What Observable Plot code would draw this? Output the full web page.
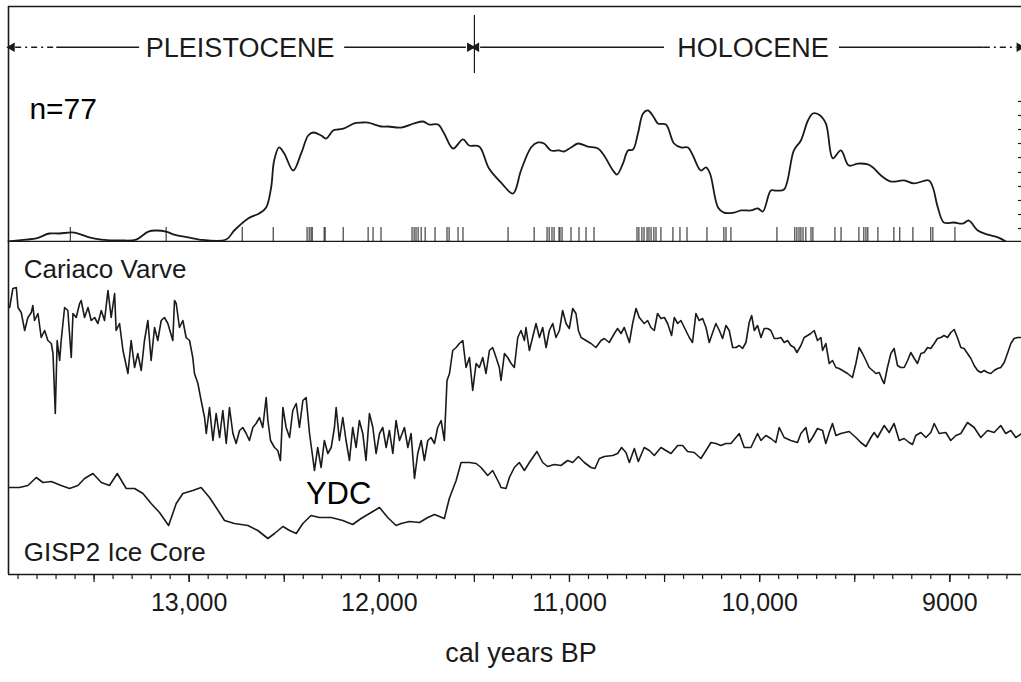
<!DOCTYPE html>
<html>
<head>
<meta charset="utf-8">
<script src="https://cdn.jsdelivr.net/npm/d3@7"></script>
<script src="https://cdn.jsdelivr.net/npm/@observablehq/plot@0.6"></script>
<style>
  html, body { margin: 0; padding: 0; background: #fff; overflow: hidden; }
  #chart { width: 1021px; height: 682px; overflow: hidden; position: relative; }
  #chart svg { display: block; }
</style>
</head>
<body>
<div id="chart"></div>
<script>
// ---------- DATA ----------
const xDomain = [13950, 8623]; // cal years BP, left to right

// Summed probability of 77 radiocarbon dates (relative units), [year, p]
const summedProb = [
[13951,0],[13857,1.5],[13804,2.3],[13736,6.1],[13683,6.1],[13620,6.9],[13583,6.1],[13525,3.1],[13462,1.5],[13357,0.8],[13278,1.5],[13215,7.6],[13173,8.4],[13121,7.6],[13079,5.3],[13005,3.1],[12947,1.5],[12805,1.5],[12763,8.4],[12690,17.6],[12632,21.4],[12595,26],[12569,41.2],[12553,61.8],[12527,71.8],[12500,67.2],[12453,54.2],[12411,67.2],[12374,80.9],[12348,83.2],[12306,80.9],[12280,78.6],[12243,84.7],[12217,85.5],[12185,86.3],[12132,90.1],[12096,90.8],[12059,90.8],[11990,87.8],[11954,87.8],[11885,87],[11817,90.1],[11770,91.6],[11738,89.3],[11691,89.3],[11659,82.4],[11612,71],[11560,77.9],[11528,73.3],[11475,72.5],[11423,55.7],[11360,45],[11297,36.6],[11255,54.2],[11202,71.8],[11166,75.6],[11134,74.8],[11097,69.5],[11055,69.5],[11029,68.7],[10992,71.8],[10955,74.8],[10903,72.5],[10850,71],[10818,65.6],[10771,54.2],[10750,51.1],[10719,59.5],[10692,69.5],[10666,70.2],[10640,82.4],[10613,97.7],[10587,100],[10556,94.7],[10535,90.1],[10493,89.3],[10450,74.8],[10414,71.8],[10377,71.8],[10351,65.6],[10309,54.2],[10282,56.5],[10261,51.9],[10219,26],[10188,22.1],[10135,22.1],[10098,23.7],[10046,23.7],[10009,25.2],[9983,22.9],[9941,38.9],[9914,38.9],[9872,39.7],[9820,69.5],[9783,77.1],[9746,92.4],[9720,97.7],[9689,96.9],[9652,90.1],[9615,63.4],[9573,69.5],[9531,58],[9483,59.5],[9431,58.8],[9404,56.5],[9362,50.4],[9310,45.8],[9241,46.6],[9189,44.3],[9110,46.6],[9089,41.2],[9063,26],[9031,14.5],[8979,14.5],[8932,13.7],[8900,16],[8853,8.4],[8800,5.3],[8747,3.1],[8705,0]
];

// Calibrated dates (n=77), cal years BP
const dates = [13625,13121,12721,12558,12380,12369,12359,12353,12290,12285,12190,12059,12033,11991,11828,11817,11807,11796,11780,11759,11707,11644,11633,11586,11560,11323,11186,11118,11107,11092,11081,11055,11050,11039,10992,10950,10913,10871,10645,10635,10619,10608,10592,10582,10571,10556,10545,10519,10456,10419,10382,10277,10188,10177,10151,9909,9815,9804,9793,9783,9772,9757,9730,9720,9604,9572,9478,9452,9441,9431,9378,9294,9263,9194,9100,9089,8973];

// Right-hand axis ticks of the upper panel (cut off at the picture edge), relative units
const rightTicks = [9.9, 20.6, 31.3, 42, 52.7, 64.1, 74.8, 85.5, 96.2, 106.9];

// Cariaco Basin varve gray-scale (relative units, up = warmer), [year, v]
const cariaco = [
[13944,173],[13927,192],[13909,193],[13900,173],[13883,168],[13865,150],[13848,163],[13830,168],[13822,175],[13813,160],[13795,167],[13778,143],[13760,150],[13743,140],[13725,137],[13716,127],[13704,67],[13694,140],[13681,120],[13673,140],[13655,173],[13638,170],[13620,123],[13611,167],[13594,163],[13576,177],[13568,180],[13550,163],[13532,173],[13515,160],[13497,163],[13480,157],[13462,170],[13445,160],[13427,190],[13410,163],[13392,187],[13384,150],[13366,157],[13348,130],[13340,123],[13322,107],[13305,140],[13287,113],[13270,127],[13252,110],[13235,140],[13217,160],[13200,120],[13182,153],[13165,140],[13147,160],[13130,163],[13112,157],[13086,140],[13077,180],[13068,177],[13051,153],[13033,160],[13016,143],[12998,140],[12981,123],[12972,107],[12954,97],[12937,80],[12919,63],[12910,47],[12893,73],[12875,40],[12858,67],[12840,43],[12823,70],[12805,37],[12788,73],[12770,47],[12753,37],[12735,50],[12718,53],[12700,47],[12683,40],[12665,53],[12648,57],[12630,63],[12613,53],[12595,83],[12586,60],[12572,40],[12551,33],[12534,30],[12520,20],[12507,73],[12490,53],[12472,43],[12455,70],[12437,77],[12420,53],[12402,80],[12385,83],[12367,47],[12350,23],[12341,10],[12324,33],[12306,13],[12289,40],[12271,27],[12253,33],[12236,53],[12227,73],[12210,40],[12192,63],[12175,40],[12157,20],[12140,53],[12122,33],[12105,60],[12087,47],[12070,20],[12052,67],[12034,53],[12017,27],[11999,47],[11982,53],[11964,33],[11947,50],[11929,27],[11912,60],[11894,40],[11868,53],[11850,33],[11833,47],[11815,2],[11798,27],[11780,40],[11763,20],[11745,40],[11728,43],[11710,37],[11693,53],[11675,60],[11658,40],[11644,100],[11631,107],[11614,130],[11596,133],[11579,137],[11561,140],[11544,113],[11526,123],[11509,90],[11491,117],[11474,113],[11456,123],[11439,107],[11421,130],[11404,133],[11386,123],[11369,113],
[11360,100],[11342,127],[11325,123],[11307,117],[11290,113],[11272,143],[11255,150],[11237,140],[11229,153],[11211,130],[11194,143],[11176,157],[11158,143],[11141,153],[11123,133],[11106,150],[11088,157],[11071,143],[11053,150],[11036,170],[11018,157],[11001,152],[10983,172],[10966,167],[10953,150],[10939,143],[10913,140],[10887,137],[10861,133],[10834,140],[10817,142],[10791,138],[10764,147],[10747,152],[10729,147],[10712,153],[10685,138],[10668,157],[10650,172],[10633,163],[10607,157],[10589,160],[10572,153],[10554,150],[10537,167],[10519,162],[10501,163],[10484,157],[10463,145],[10449,163],[10431,157],[10414,160],[10396,153],[10370,143],[10353,138],[10335,167],[10318,160],[10300,162],[10282,153],[10265,138],[10247,148],[10230,157],[10212,150],[10195,142],[10177,155],[10160,150],[10142,133],[10125,133],[10107,135],[10090,132],[10072,138],[10055,158],[10042,165],[10028,150],[10011,155],[9993,143],[9976,152],[9958,152],[9941,150],[9923,142],[9906,142],[9888,143],[9871,138],[9853,140],[9836,135],[9818,133],[9804,128],[9783,135],[9766,143],[9748,145],[9731,147],[9713,150],[9696,140],[9678,143],[9669,130],[9652,137],[9634,117],[9617,120],[9599,113],[9582,112],[9564,110],[9538,107],[9512,103],[9494,117],[9477,133],[9459,127],[9441,120],[9424,113],[9406,110],[9389,107],[9371,108],[9354,100],[9345,97],[9328,113],[9310,127],[9293,132],[9275,115],[9258,113],[9240,113],[9222,120],[9205,128],[9187,122],[9170,117],[9152,127],[9135,128],[9117,133],[9100,132],[9082,137],[9065,142],[9047,143],[9030,145],[9012,143],[8995,148],[8977,151],[8960,143],[8942,133],[8925,132],[8907,127],[8889,122],[8872,115],[8854,110],[8837,108],[8819,110],[8802,108],[8784,107],[8767,110],[8749,112],[8732,113],[8714,118],[8697,127],[8679,137],[8662,142],[8644,143],[8621,143]
];

// GISP2 ice core (relative units, same vertical unit as above), [year, v]
const gisp2 = [
[13944,-7],[13892,-7],[13848,-5],[13804,3],[13769,-2],[13725,-1],[13673,-5],[13629,-8],[13585,-5],[13550,2],[13506,7],[13462,-2],[13419,-5],[13378,7],[13331,-8],[13287,-8],[13243,-13],[13200,-23],[13156,-32],[13108,-45],[13068,-23],[13033,-13],[12981,-10],[12937,-7],[12893,-17],[12858,-27],[12814,-40],[12762,-43],[12691,-45],[12639,-50],[12586,-58],[12551,-53],[12507,-46],[12472,-50],[12437,-53],[12402,-43],[12359,-35],[12315,-37],[12253,-37],[12192,-40],[12140,-44],[12096,-38],[12043,-32],[11999,-27],[11956,-37],[11912,-45],[11885,-43],[11842,-41],[11789,-42],[11745,-37],[11710,-34],[11658,-38],[11632,-18],[11596,0],[11570,18],[11526,18],[11491,17],[11465,13],[11430,5],[11404,10],[11369,-3],
[11360,-7],[11334,-8],[11316,3],[11290,13],[11264,18],[11237,10],[11211,18],[11171,29],[11141,18],[11115,14],[11080,16],[11045,15],[11010,20],[10983,18],[10953,24],[10922,18],[10887,13],[10866,12],[10843,22],[10817,24],[10773,25],[10747,27],[10726,33],[10703,28],[10685,18],[10659,32],[10638,19],[10607,33],[10580,30],[10554,25],[10519,33],[10493,30],[10466,27],[10431,35],[10405,35],[10379,29],[10344,28],[10309,22],[10282,30],[10256,38],[10230,37],[10204,35],[10177,37],[10151,37],[10107,47],[10081,33],[10046,33],[10011,47],[9993,40],[9967,45],[9941,42],[9915,38],[9897,53],[9871,43],[9836,40],[9801,38],[9783,47],[9757,53],[9740,38],[9722,43],[9696,52],[9669,50],[9652,37],[9634,48],[9617,57],[9599,45],[9573,47],[9529,49],[9494,43],[9468,38],[9441,34],[9415,43],[9398,48],[9380,43],[9345,55],[9319,48],[9293,57],[9266,40],[9240,42],[9214,38],[9196,36],[9179,45],[9152,48],[9126,43],[9100,48],[9082,57],[9056,47],[9021,48],[8995,40],[8968,45],[8942,47],[8907,58],[8872,53],[8837,43],[8802,50],[8767,48],[8732,55],[8706,47],[8679,50],[8653,43],[8621,47]
];

// Period annotation
const boundaryYear = 11500;
const periodNames = ["PLEISTOCENE", "HOLOCENE"];
const periodLabelYears = [12732, 10035];
const solidSegments = [[13699, 13263], [12185, 11545], [11470, 10503], [9583, 8821]];
const dashedSegments = [[13915, 13699], [8821, 8650]];
const arrowHeads = [[13932, -90], [11524, 90], [11490, -90], [8634, 90]]; // [year, rotation]

// Axis ticks
const minorTicks = d3.range(8700, 14000, 100);
const halfTicks = d3.range(9000, 14000, 500);
const labelTicks = [13000, 12000, 11000, 10000, 9000];

// Panel labels
const nLabel = "n=77";
const seriesLabels = ["Cariaco Varve", "GISP2 Ice Core"];
const eventLabel = "YDC";
const xLabel = "cal years BP";

// ---------- CHART ----------
const FONT = "'Liberation Sans', Arial, Helvetica, sans-serif";
const INK = "#1a1a1a";
const annY = 148.3;   // level of the period arrows, in panel units
const fmt = d => d >= 10000 ? d3.format(",")(d) : String(d);

const topPlot = Plot.plot({
  width: 1021, height: 242,
  marginLeft: 8, marginRight: 0, marginTop: 6, marginBottom: 1,
  x: {domain: xDomain, axis: null, label: null},
  y: {domain: [0, 179.4], axis: null, label: null},
  style: {fontFamily: FONT, background: "#fff", color: INK},
  marks: [
    Plot.ruleY([179.4], {stroke: INK, strokeWidth: 1.6}),
    Plot.ruleY([0], {stroke: INK, strokeWidth: 1.6}),
    Plot.ruleX([xDomain[0]], {stroke: INK, strokeWidth: 1.6}),
    Plot.ruleY(rightTicks, {insetLeft: 1010, stroke: INK, strokeWidth: 1.2}),
    Plot.ruleX(dates, {x: d => d, insetTop: 221, stroke: INK, strokeWidth: 1}),
    Plot.line(summedProb, {x: d => d[0], y: d => d[1], curve: "catmull-rom", stroke: INK, strokeWidth: 1.8}),
    Plot.ruleX([boundaryYear], {y1: 128.2, y2: 172.5, stroke: INK, strokeWidth: 1.2}),
    Plot.link(solidSegments, {x1: d => d[0], x2: d => d[1], y1: annY, y2: annY, stroke: INK, strokeWidth: 1.3}),
    Plot.link(dashedSegments, {x1: d => d[0], x2: d => d[1], y1: annY, y2: annY, stroke: INK, strokeWidth: 1.3, strokeDasharray: "6,4,2,4"}),
    Plot.dot(arrowHeads, {x: d => d[0], y: annY, rotate: d => d[1], symbol: "triangle", r: 3.6, fill: INK, stroke: "none"}),
    Plot.text(periodNames, {x: (d, i) => periodLabelYears[i], y: annY, text: d => d, fontSize: 27, fill: INK, dy: 1}),
    Plot.text([nLabel], {x: 13840, y: 101.2, text: d => d, textAnchor: "start", fontSize: 30, fill: "#000"})
  ]
});

const bottomPlot = Plot.plot({
  width: 1021, height: 440,
  marginLeft: 8, marginRight: 0, marginTop: 0, marginBottom: 108,
  x: {domain: xDomain, label: null},
  y: {domain: [-94, 238], axis: null, label: null},
  style: {fontFamily: FONT, background: "#fff", color: INK},
  marks: [
    Plot.ruleX([xDomain[0]], {stroke: INK, strokeWidth: 1.6}),
    Plot.ruleY([-94], {stroke: INK, strokeWidth: 1.6}),
    Plot.line(cariaco, {x: d => d[0], y: d => d[1], stroke: INK, strokeWidth: 1.6}),
    Plot.line(gisp2, {x: d => d[0], y: d => d[1], stroke: INK, strokeWidth: 1.6}),
    Plot.axisX(minorTicks, {tickSize: 5, tickFormat: () => "", stroke: INK, strokeWidth: 1.2}),
    Plot.axisX(halfTicks, {tickSize: 8, tickFormat: () => "", stroke: INK, strokeWidth: 1.2}),
    Plot.axisX(labelTicks, {tickSize: 8, tickPadding: 11, tickFormat: fmt, fontSize: 25, fill: INK, stroke: INK, strokeWidth: 1.2}),
    Plot.text([seriesLabels[0]], {x: 13870, y: 211.3, text: d => d, textAnchor: "start", fontSize: 26, fill: INK}),
    Plot.text([seriesLabels[1]], {x: 13870, y: -71.7, text: d => d, textAnchor: "start", fontSize: 26, fill: INK}),
    Plot.text([eventLabel], {x: 12214, y: -13.1, text: d => d, fontSize: 31, fill: "#000"}),
    Plot.text([xLabel], {frameAnchor: "bottom", dx: 6, dy: 87, text: d => d, fontSize: 27, fill: INK})
  ]
});

const el = document.getElementById("chart");
el.appendChild(topPlot);
el.appendChild(bottomPlot);
</script>
</body>
</html>
